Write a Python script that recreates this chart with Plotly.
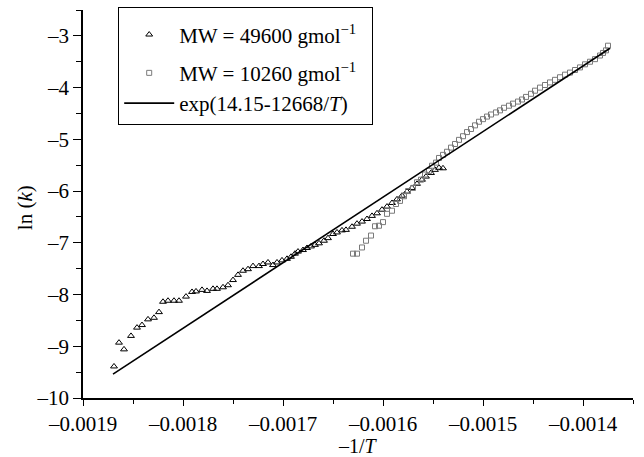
import plotly.graph_objects as go

# MW = 49600 g/mol (triangles)
tri_x = [-0.001869, -0.001864, -0.001859, -0.001852, -0.001846, -0.001841, -0.001835, -0.001829,
         -0.001824, -0.001820, -0.001815, -0.001809, -0.001804, -0.001797, -0.001791, -0.001787,
         -0.001781, -0.001776, -0.001770, -0.001766, -0.001760, -0.001755, -0.001750, -0.001745,
         -0.001740, -0.001735, -0.001730, -0.001724, -0.001720, -0.001715, -0.001710, -0.001706,
         -0.001701, -0.001696, -0.001692, -0.001688, -0.001685, -0.001680, -0.001676, -0.001672,
         -0.001668, -0.001664, -0.001659, -0.001655, -0.001650, -0.001646, -0.001641, -0.001637,
         -0.001631, -0.001626, -0.001621, -0.001616, -0.001611, -0.001606, -0.001601, -0.001596,
         -0.001591, -0.001586, -0.001581, -0.001576, -0.001571, -0.001566, -0.001561, -0.001557,
         -0.001552, -0.001548, -0.001544, -0.001540]
tri_y = [-9.39, -8.93, -9.06, -8.80, -8.64, -8.59, -8.48, -8.45,
         -8.34, -8.14, -8.12, -8.12, -8.12, -8.04, -7.95, -7.94,
         -7.91, -7.93, -7.89, -7.89, -7.86, -7.82, -7.72, -7.62,
         -7.54, -7.51, -7.45, -7.45, -7.41, -7.38, -7.43, -7.38,
         -7.34, -7.31, -7.27, -7.21, -7.17, -7.14, -7.10, -7.07,
         -7.04, -7.01, -6.96, -6.91, -6.83, -6.80, -6.76, -6.75,
         -6.69, -6.63, -6.59, -6.54, -6.48, -6.43, -6.36, -6.30,
         -6.23, -6.16, -6.09, -6.01, -5.94, -5.86, -5.78, -5.72,
         -5.65, -5.59, -5.55, -5.56]

# MW = 10260 g/mol (squares)
sq_x = [-0.001630, -0.001626, -0.001621, -0.001617, -0.001612, -0.001608, -0.001604, -0.001600,
        -0.001596, -0.001591, -0.001587, -0.001583, -0.001579, -0.001575, -0.001570, -0.001566,
        -0.001562, -0.001558, -0.001554, -0.001551, -0.001547, -0.001544, -0.001540, -0.001536,
        -0.001532, -0.001528, -0.001524, -0.001520, -0.001516, -0.001512, -0.001508, -0.001504,
        -0.001500, -0.001496, -0.001492, -0.001487, -0.001483, -0.001479, -0.001474, -0.001470,
        -0.001465, -0.001461, -0.001457, -0.001452, -0.001448, -0.001443, -0.001438, -0.001433,
        -0.001428, -0.001423, -0.001418, -0.001413, -0.001408, -0.001403, -0.001398, -0.001393,
        -0.001388, -0.001383, -0.001380, -0.001377, -0.001375]
sq_y = [-7.21, -7.21, -7.09, -6.96, -6.86, -6.68, -6.67, -6.60,
        -6.44, -6.38, -6.25, -6.19, -6.10, -6.00, -5.94, -5.83,
        -5.78, -5.68, -5.61, -5.51, -5.45, -5.36, -5.30, -5.24,
        -5.16, -5.09, -5.01, -4.94, -4.86, -4.80, -4.73, -4.66,
        -4.61, -4.56, -4.52, -4.48, -4.44, -4.39, -4.35, -4.31,
        -4.27, -4.23, -4.18, -4.12, -4.06, -4.00, -3.95, -3.90,
        -3.85, -3.80, -3.75, -3.71, -3.66, -3.61, -3.55, -3.50,
        -3.45, -3.38, -3.33, -3.28, -3.19]

# Fit line exp(14.15-12668/T): end points
fit_x = [-0.00187, -0.001373]
fit_y = [-9.54, -3.24]

x_tickvals = [-0.0019, -0.0018, -0.0017, -0.0016, -0.0015, -0.0014]
x_ticktext = ["–0.0019", "–0.0018", "–0.0017", "–0.0016", "–0.0015", "–0.0014"]
y_tickvals = [-10, -9, -8, -7, -6, -5, -4, -3]
y_ticktext = ["–10", "–9", "–8", "–7", "–6", "–5", "–4", "–3"]

FONT = "Liberation Serif, Times New Roman, serif"

fig = go.Figure()
fig.add_trace(go.Scatter(
    x=tri_x, y=tri_y, mode="markers", name="MW = 49600 gmol<sup>−1</sup>",
    legendgroup="a",
    marker=dict(symbol="triangle-up-open", size=6, color="black", line=dict(width=1, color="black")),
))
fig.add_trace(go.Scatter(
    x=sq_x, y=sq_y, mode="markers",
    name="MW = 10260 gmol<sup>−1</sup>\u00a0<span style='color:white'>.</span>",
    legendgroup="b",
    marker=dict(symbol="square-open", size=5, color="#7a7a7a", line=dict(width=1, color="#7a7a7a")),
))
fig.add_trace(go.Scatter(
    x=fit_x, y=fit_y, mode="lines", name="exp(14.15-12668/<i>T</i>)",
    legendgroup="b",
    line=dict(color="black", width=1.6),
))

fig.update_layout(
    width=644, height=457,
    margin=dict(l=83, r=11, t=10, b=59, autoexpand=False),
    paper_bgcolor="white", plot_bgcolor="white",
    font=dict(family=FONT, size=21, color="black"),
    showlegend=True,
    legend=dict(
        x=0.064, y=1.008, xanchor="left", yanchor="top",
        bordercolor="black", borderwidth=1, bgcolor="white",
        font=dict(family=FONT, size=21, color="black"),
        itemwidth=50, tracegroupgap=8,
        title=dict(text="\u00a0", font=dict(family=FONT, size=5)),
    ),
    xaxis=dict(
        range=[-0.0019, -0.00135], automargin=False,
        tickvals=x_tickvals, ticktext=x_ticktext,
        ticks="outside", ticklen=6, tickwidth=1.2, tickcolor="black",
        showline=True, linecolor="black", linewidth=1.5,
        showgrid=False, zeroline=False,
        minor=dict(ticks="outside", ticklen=4, tickwidth=1.2, tickcolor="black", dtick=0.00005, showgrid=False),
        tickfont=dict(family=FONT, size=21),
    ),
    yaxis=dict(
        range=[-10, -2.5], automargin=False,
        tickvals=y_tickvals, ticktext=y_ticktext,
        ticks="outside", ticklen=8, tickwidth=1.2, tickcolor="black",
        showline=True, linecolor="black", linewidth=1.5,
        showgrid=False, zeroline=False,
        minor=dict(ticks="outside", ticklen=5, tickwidth=1.2, tickcolor="black", dtick=0.5, showgrid=False),
        tickfont=dict(family=FONT, size=21),
    ),
    annotations=[
        dict(text="–1/<i>T</i>", xref="paper", yref="paper", x=0.5, y=-0.123,
             xanchor="center", yanchor="middle", showarrow=False,
             font=dict(family=FONT, size=20, color="black")),
        dict(text="ln (<i>k</i>)", xref="paper", yref="paper", x=-0.105, y=0.49,
             xanchor="center", yanchor="middle", showarrow=False, textangle=-90,
             font=dict(family=FONT, size=21, color="black")),
    ],
)

fig.write_html("out.html")
